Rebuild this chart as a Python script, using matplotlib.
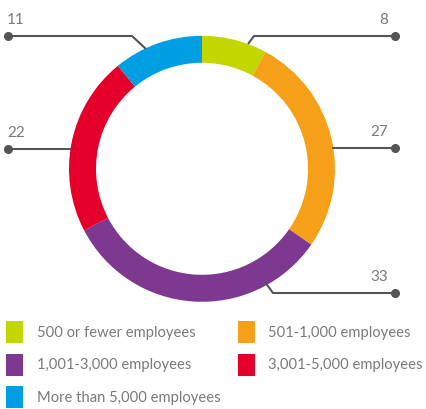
import matplotlib
matplotlib.use("Agg")
import matplotlib.pyplot as plt
from matplotlib.patches import Rectangle

# data
categories = [
    "500 or fewer employees",
    "501-1,000 employees",
    "1,001-3,000 employees",
    "3,001-5,000 employees",
    "More than 5,000 employees",
]
values = [8, 27, 33, 22, 11]
colors = ["#c4d600", "#f6a01a", "#7d3990", "#e4002b", "#009fe3"]

W, H = 427, 409
TEXT = "#7a7a7a"
LINE = "#555555"

# layout (pixel coords, y measured from top)
center = (202, 168.8)
radius = 133
ring = 27

# leader lines: polyline points, then label pos and alignment
leaders = [
    ([(248, 44), (254, 36), (395, 36)], (388, 20), "right"),
    ([(332, 148), (395, 148)], (388, 132), "right"),
    ([(265, 282), (273, 293), (395, 293)], (388, 277), "right"),
    ([(71, 149), (8, 149)], (7, 133), "left"),
    ([(146, 49), (132, 36), (8, 36)], (7, 20), "left"),
]

plt.rcParams["font.family"] = ["Lato", "DejaVu Sans"]

fig = plt.figure(figsize=(W / 100, H / 100), dpi=100)
ax = fig.add_axes([0, 0, 1, 1])

ax.pie(
    values,
    colors=colors,
    startangle=90,
    counterclock=False,
    radius=radius,
    center=(center[0], H - center[1]),
    wedgeprops=dict(width=ring, linewidth=0),
)
ax.set_xlim(0, W)
ax.set_ylim(0, H)
ax.set_aspect("equal")
ax.axis("off")

for (pts, (tx, ty), ha), v in zip(leaders, values):
    xs = [p[0] for p in pts]
    ys = [H - p[1] for p in pts]
    ax.plot(xs, ys, color=LINE, lw=1.5, solid_capstyle="butt")
    ax.plot(xs[-1], ys[-1], "o", color=LINE, ms=5.5)
    ax.text(tx, H - ty, str(v), ha=ha, va="center", fontsize=11, color=TEXT)

# legend
legend_cols = [(6, 37), (238, 268)]
legend_rows = [332, 364.5, 397]
for i, (label, c) in enumerate(zip(categories, colors)):
    sx, tx = legend_cols[i % 2]
    yc = legend_rows[i // 2]
    ax.add_patch(Rectangle((sx, H - yc - 11), 17, 22, facecolor=c, lw=0))
    ax.text(tx, H - yc - 1, label, ha="left", va="center", fontsize=10.6, color=TEXT)

fig.savefig("out.png", dpi=100)
